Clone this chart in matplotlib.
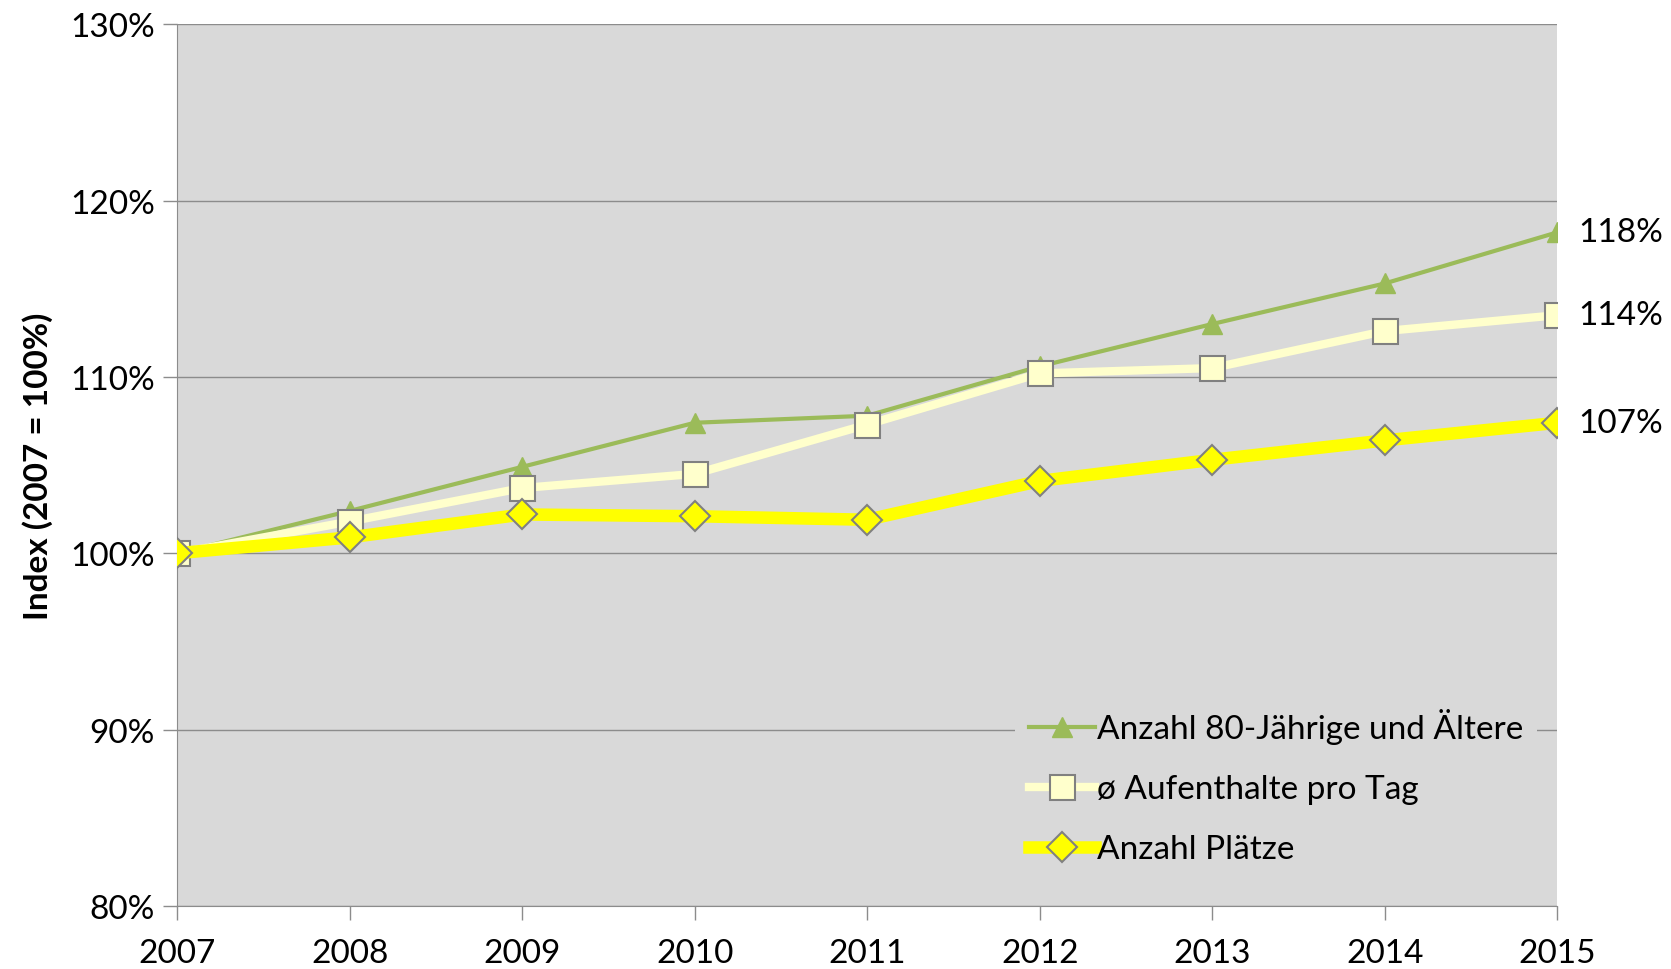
import numpy as np
import matplotlib.pyplot as plt
from matplotlib.ticker import FuncFormatter

plt.rcParams['font.family'] = ['Lato', 'DejaVu Sans']

jahre = [2007, 2008, 2009, 2010, 2011, 2012, 2013, 2014, 2015]
aeltere = [100.0, 102.4, 104.9, 107.4, 107.8, 110.6, 113.0, 115.3, 118.2]
aufenthalte = [100.0, 101.8, 103.7, 104.5, 107.3, 110.2, 110.5, 112.6, 113.5]
plaetze = [100.0, 100.9, 102.2, 102.1, 101.9, 104.1, 105.3, 106.4, 107.4]
end_labels = ['118%', '114%', '107%']

fig = plt.figure(figsize=(16.71, 9.70), dpi=100)
ax = fig.add_axes([0.106, 0.065, 0.826, 0.909])
ax.set_facecolor('#D9D9D9')

ax.plot(jahre, aeltere, color='#9BBB59', lw=3, marker='^', ms=15,
        mfc='#9BBB59', mec='#9BBB59', label='Anzahl 80-Jährige und Ältere', zorder=3)
ax.plot(jahre, aufenthalte, color='#FFFFCC', lw=6, marker='s', ms=18,
        mfc='#FFFFCC', mec='#808080', mew=1.5, label='ø Aufenthalte pro Tag', zorder=4)
ax.plot(jahre, plaetze, color='#FFFF00', lw=9, marker='D', ms=15,
        mfc='#FFFF00', mec='#808080', mew=1.5, label='Anzahl Plätze', zorder=5)

for vals, txt in zip([aeltere, aufenthalte, plaetze], end_labels):
    ax.annotate(txt, (jahre[-1], vals[-1]), xytext=(15, 0), textcoords='offset points',
                va='center', ha='left', fontsize=24, annotation_clip=False)

ax.set_xlim(2007, 2015)
ax.set_ylim(80, 130)
ax.set_xticks(jahre)
ax.set_yticks(np.arange(80, 131, 10))
ax.yaxis.set_major_formatter(FuncFormatter(lambda v, p: '%d%%' % v))
ax.grid(axis='y', color='#8C8C8C', lw=1)
ax.set_axisbelow(True)
for s in ['top', 'right']:
    ax.spines[s].set_visible(False)
for s in ['left', 'bottom']:
    ax.spines[s].set_color('#8C8C8C')
ax.tick_params(axis='both', labelsize=24, color='#8C8C8C', length=10, width=1)
ax.tick_params(axis='x', pad=13)
ax.tick_params(axis='y', pad=6)
ax.set_ylabel('Index (2007 = 100%)', fontsize=24, fontweight='bold', labelpad=12)

leg = ax.legend(loc='lower right', bbox_to_anchor=(0.985, 0.032), fontsize=24,
                frameon=True, facecolor='#D9D9D9', edgecolor='none', framealpha=1,
                handlelength=2.0, handletextpad=0.05, labelspacing=0.9, borderaxespad=0)

fig.savefig('out.png', dpi=100)
